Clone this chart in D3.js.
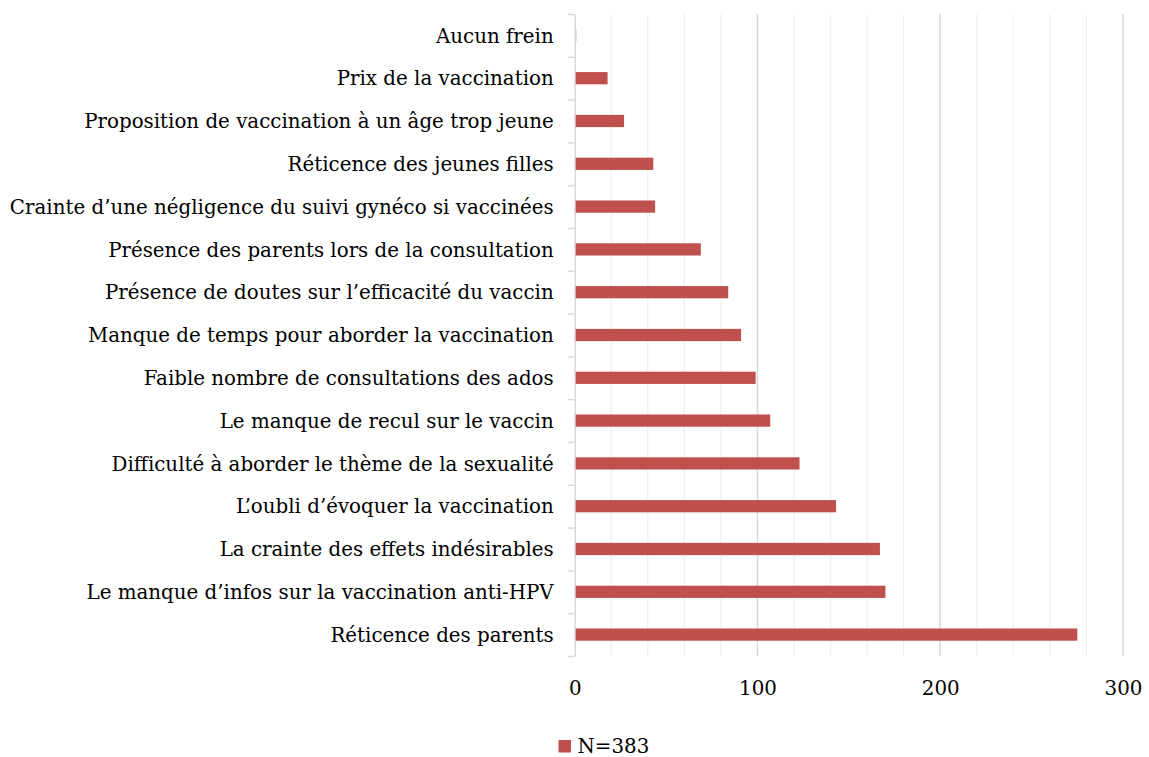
<!DOCTYPE html>
<html>
<head>
<meta charset="utf-8">
<script src="https://cdn.jsdelivr.net/npm/d3@7/dist/d3.min.js"></script>
<style>
  body { margin: 0; background: #fff; }
  .label { font-family: "DejaVu Serif", serif; font-size: 19px; fill: #000; }
</style>
</head>
<body>
<div id="chart-area"></div>
<script>
// categories, top to bottom
var categories = [
    "Aucun frein",
    "Prix de la vaccination",
    "Proposition de vaccination à un âge trop jeune",
    "Réticence des jeunes filles",
    "Crainte d’une négligence du suivi gynéco si vaccinées",
    "Présence des parents lors de la consultation",
    "Présence de doutes sur l’efficacité du vaccin",
    "Manque de temps pour aborder la vaccination",
    "Faible nombre de consultations des ados",
    "Le manque de recul sur le vaccin",
    "Difficulté à aborder le thème de la sexualité",
    "L’oubli d’évoquer la vaccination",
    "La crainte des effets indésirables",
    "Le manque d’infos sur la vaccination anti-HPV",
    "Réticence des parents"
];
var values = [1, 18, 27, 43, 44, 69, 84, 91, 99, 107, 123, 143, 167, 170, 275];
var seriesName = "N=383";
var xTicks = [0, 100, 200, 300];

var W = 1149, H = 757;
var margin = { left: 574.7, right: 26, top: 14, bottom: 101 };
var width = W - margin.left - margin.right;
var height = H - margin.top - margin.bottom;

var svg = d3.select("#chart-area")
    .append("svg")
        .attr("width", W)
        .attr("height", H);

var g = svg.append("g")
    .attr("transform", "translate(" + margin.left + "," + margin.top + ")");

var x = d3.scaleLinear()
    .domain([0, 300])
    .range([0, width]);

var y = d3.scaleBand()
    .domain(categories)
    .range([0, height])
    .paddingInner(0.714)
    .paddingOuter(0.357);

// gridlines every 20, darker at every 100
var grid = d3.range(20, 301, 20);
g.selectAll(".grid")
    .data(grid)
  .enter().append("line")
    .attr("class", "grid")
    .attr("x1", function(d){ return x(d); })
    .attr("x2", function(d){ return x(d); })
    .attr("y1", 0)
    .attr("y2", height)
    .attr("stroke", function(d){ return d % 100 === 0 ? "#d9d9d9" : "#efefef"; })
    .attr("stroke-width", function(d){ return d % 100 === 0 ? 1.5 : 1.2; });

// x tick labels
g.append("g")
    .attr("transform", "translate(0," + height + ")")
    .call(d3.axisBottom(x).tickValues(xTicks).tickSize(0).tickPadding(25))
    .call(function(a){ a.select(".domain").remove(); })
    .selectAll("text")
        .attr("class", "label")
        .attr("font-family", null)
        .attr("font-size", null);

// category axis: ticks at band boundaries
var yEdge = d3.scaleLinear().domain([0, categories.length]).range([0, height]);
g.append("g")
    .call(d3.axisLeft(yEdge).ticks(categories.length).tickSize(7).tickSizeOuter(0).tickFormat(""))
    .call(function(a){
        a.selectAll("line").attr("stroke", "#d9d9d9").attr("stroke-width", 1.5);
        a.select(".domain").attr("stroke", "#d9d9d9").attr("stroke-width", 1.5);
    });

var names = g.selectAll(".name")
    .data(categories)
  .enter().append("text")
    .attr("class", "label name")
    .attr("x", -21)
    .attr("y", function(d){ return y(d) + y.bandwidth() / 2; })
    .attr("dy", "0.36em")
    .attr("text-anchor", "end")
    .text(function(d){ return d; });

// fit the longest label to the width it has in the original
var longest = d3.max(names.nodes(), function(n){ return n.getComputedTextLength(); });
var fs = 19 * 544 / longest;
svg.selectAll(".label").style("font-size", fs + "px");

g.selectAll(".bar")
    .data(values)
  .enter().append("rect")
    .attr("class", "bar")
    .attr("x", x(0) + 1)
    .attr("y", function(d, i){ return y(categories[i]); })
    .attr("width", function(d){ return Math.max(0, x(d) - x(0) - 1); })
    .attr("height", y.bandwidth())
    .attr("fill", function(d){ return d < 2 ? "#e8b9b8" : "#c0504d"; });

// legend
var legend = svg.append("g")
    .attr("transform", "translate(558.5,740)");
legend.append("rect")
    .attr("width", 12.5)
    .attr("height", 12.5)
    .attr("fill", "#c0504d");
legend.append("text")
    .attr("class", "label")
    .attr("x", 19)
    .attr("y", 12.5)
    .style("font-size", fs + "px")
    .text(seriesName);
</script>
</body>
</html>
